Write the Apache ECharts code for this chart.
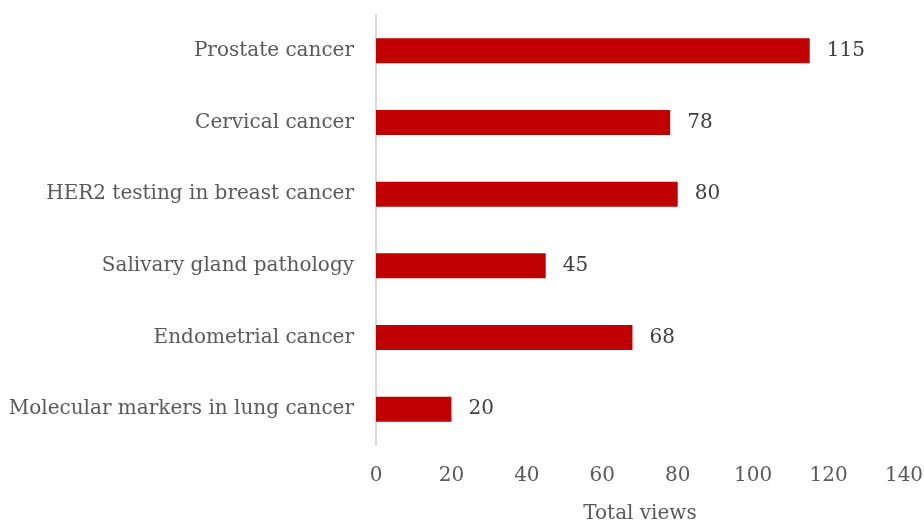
<!DOCTYPE html>
<html>
<head>
<meta charset="utf-8">
<script src="https://cdn.jsdelivr.net/npm/echarts@6/dist/echarts.min.js"></script>
<style>
  html, body { margin: 0; padding: 0; background: #fff; }
  #chart { width: 924px; height: 522px; }
</style>
</head>
<body>
<div id="chart"></div>
<script>
const categories = [
  'Prostate cancer',
  'Cervical cancer',
  'HER2 testing in breast cancer',
  'Salivary gland pathology',
  'Endometrial cancer',
  'Molecular markers in lung cancer'
]
const views = [115, 78, 80, 45, 68, 20]
const axisMin = 0
const axisMax = 140
const axisStep = 20

const font = '"DejaVu Serif", serif'
const chart = echarts.init(document.getElementById('chart'))
chart.setOption({
  animation: false,
  grid: { left: 376, right: 20, top: 15, bottom: 77, outerBoundsMode: 'none' },
  xAxis: {
    type: 'value',
    min: axisMin,
    max: axisMax,
    interval: axisStep,
    name: 'Total views',
    nameLocation: 'middle',
    nameGap: 59,
    nameTextStyle: { color: '#595959', fontSize: 20, fontFamily: font },
    axisLine: { show: false },
    axisTick: { show: false },
    splitLine: { show: false },
    axisLabel: { color: '#595959', fontSize: 20, fontFamily: font, margin: 21 }
  },
  yAxis: {
    type: 'category',
    data: categories,
    inverse: true,
    axisLine: { show: true, lineStyle: { color: '#D9D9D9', width: 2 } },
    axisTick: { show: false },
    axisLabel: { color: '#595959', fontSize: 20, fontFamily: font, margin: 22 }
  },
  series: [
    {
      type: 'bar',
      data: views,
      barWidth: 25,
      itemStyle: { color: '#C00000' },
      label: {
        show: true,
        position: 'right',
        distance: 17,
        color: '#404040',
        fontSize: 20,
        fontFamily: font
      }
    }
  ]
})
</script>
</body>
</html>
